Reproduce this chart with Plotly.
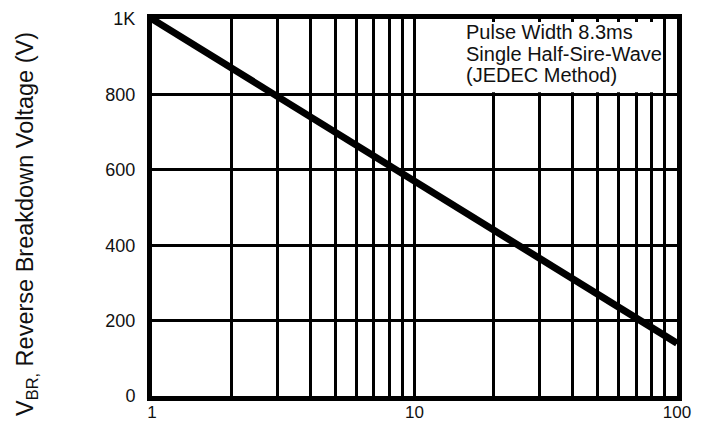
import plotly.graph_objects as go

# Data
current_a = [1, 10, 100]
vbr_v = [1000, 570, 140]

x_tickvals = [1, 2, 3, 4, 5, 6, 7, 8, 9, 10, 20, 30, 40, 50, 60, 70, 80, 90, 100]
x_ticktext = ["1", "", "", "", "", "", "", "", "", "10", "", "", "", "", "", "", "", "", "100"]
y_tickvals = [0, 200, 400, 600, 800, 1000]
y_ticktext = ["0", "200", "400", "600", "800", "1K"]

note_lines = ["Pulse Width 8.3ms", "Single Half-Sire-Wave", "(JEDEC Method)"]
y_title = "V<sub>BR,</sub> Reverse Breakdown Voltage (V)"

FONT = "Arial, 'Liberation Sans', sans-serif"

fig = go.Figure()
fig.add_trace(go.Scatter(
    x=current_a, y=vbr_v, mode="lines",
    line=dict(color="black", width=7),
    showlegend=False, hoverinfo="skip", cliponaxis=False,
))

L, R, T, B = 152, 33, 19, 29
W, H = 710, 425
pw = W - L - R
ph = H - T - B

fig.update_layout(
    width=W, height=H,
    margin=dict(l=L, r=R, t=T, b=B, pad=0, autoexpand=False),
    paper_bgcolor="white", plot_bgcolor="white",
    font=dict(family=FONT, size=18, color="#111"),
    xaxis=dict(
        type="log", range=[0, 2], automargin=False,
        tickmode="array", tickvals=x_tickvals, ticktext=x_ticktext,
        showgrid=True, gridcolor="black", gridwidth=3,
        showline=True, linecolor="black", linewidth=5, mirror=True,
        ticks="", ticklabelstandoff=-3,
        tickfont=dict(size=17), zeroline=False, fixedrange=True,
    ),
    yaxis=dict(
        range=[0, 1000], automargin=False,
        tickmode="array", tickvals=y_tickvals, ticktext=y_ticktext,
        showgrid=True, gridcolor="black", gridwidth=3,
        showline=True, linecolor="black", linewidth=5, mirror=True,
        ticks="outside", ticklen=8, tickcolor="rgba(0,0,0,0)",
        tickfont=dict(size=18), zeroline=False, fixedrange=True,
    ),
)

# white box hiding the grid behind the note
fig.add_shape(type="rect", xref="paper", yref="paper",
              x0=0.505, x1=0.971, y0=0.806, y1=0.992,
              fillcolor="white", line=dict(width=0), layer="above")

for i, line in enumerate(note_lines):
    fig.add_annotation(
        xref="paper", yref="paper",
        x=(464 - L) / pw, y=(H - B - (32 + 21.5 * i)) / ph,
        xanchor="left", yanchor="middle", align="left",
        text=line, showarrow=False,
        font=dict(family=FONT, size=20, color="#111"),
    )

fig.add_annotation(
    xref="paper", yref="paper",
    x=(27 - L) / pw, y=(H - B - 224) / ph,
    xanchor="center", yanchor="middle", textangle=-90,
    text=y_title, showarrow=False,
    font=dict(family=FONT, size=23.5, color="#111"),
)

fig.write_html("out.html")
